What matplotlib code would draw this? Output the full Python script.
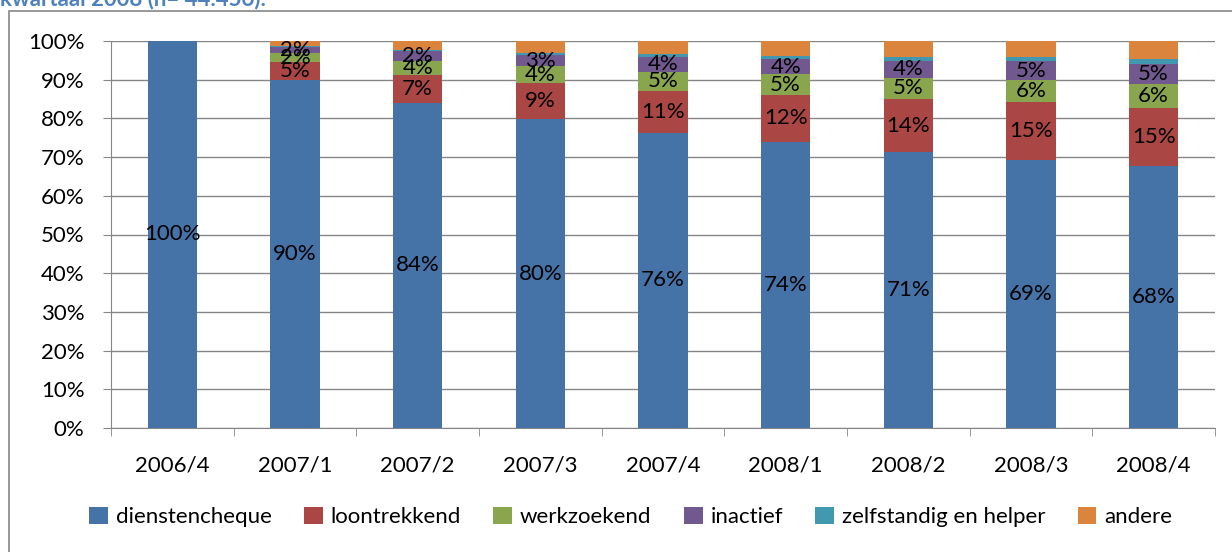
import numpy as np
import matplotlib.pyplot as plt
from matplotlib.patches import Rectangle

plt.rcParams['font.family'] = ['Lato', 'DejaVu Sans']

# Kwartalen
kwartalen = ['2006/4', '2007/1', '2007/2', '2007/3', '2007/4',
             '2008/1', '2008/2', '2008/3', '2008/4']

# Aandelen per statusgroep (in %)
dienstencheque = [100, 89.9, 84.1, 79.8, 76.3, 73.9, 71.2, 69.3, 67.6]
loontrekkend = [0, 4.6, 7.0, 9.3, 10.8, 12.2, 13.9, 15.0, 15.0]
werkzoekend = [0, 2.4, 3.8, 4.4, 5.0, 5.3, 5.4, 5.6, 6.4]
inactief = [0, 1.6, 2.4, 2.8, 3.7, 4.0, 4.4, 4.9, 5.1]
zelfstandig = [0, 0.3, 0.4, 0.7, 0.8, 0.8, 0.9, 1.1, 1.2]
andere = [0, 1.2, 2.3, 3.0, 3.4, 3.8, 4.2, 4.1, 4.7]

reeksen = [dienstencheque, loontrekkend, werkzoekend, inactief, zelfstandig, andere]
namen = ['dienstencheque', 'loontrekkend', 'werkzoekend', 'inactief',
         'zelfstandig en helper', 'andere']
kleuren = ['#4572A7', '#AA4643', '#89A54E', '#71588F', '#4198AF', '#DB843D']
met_label = [True, True, True, True, False, False]

fs = 16

fig = plt.figure(figsize=(12.32, 5.52), dpi=100)
ax = fig.add_axes([111 / 1232, 1 - 428 / 552, (1215 - 111) / 1232, (428 - 41) / 552])

x = np.arange(len(kwartalen))
onder = np.zeros(len(kwartalen))
for waarden, naam, kleur, label in zip(reeksen, namen, kleuren, met_label):
    w = np.array(waarden, dtype=float)
    ax.bar(x, w, 0.4, bottom=onder, color=kleur, label=naam, zorder=3)
    if label:
        for xi, b, v in zip(x, onder, w):
            if v > 0:
                ax.text(xi, b + v / 2, f'{v:.0f}%', ha='center', va='center',
                        fontsize=fs, zorder=4)
    onder += w

ax.set_xlim(-0.5, len(kwartalen) - 0.5)
ax.set_ylim(0, 100)
ax.set_yticks(np.arange(0, 101, 10))
ax.set_yticklabels([f'{v}%' for v in range(0, 101, 10)], fontsize=fs)
ax.yaxis.grid(True, color='#868686', linewidth=1, zorder=0)
ax.set_axisbelow(True)

ax.set_xticks(x)
ax.set_xticklabels(kwartalen, fontsize=fs)
ax.set_xticks(np.arange(-0.5, len(kwartalen)), minor=True)
ax.tick_params(axis='x', which='major', length=0, pad=20)
ax.tick_params(axis='x', which='minor', length=6, color='#868686', direction='out')
ax.tick_params(axis='y', length=6, color='#868686', pad=13)

for s in ['top', 'right']:
    ax.spines[s].set_visible(False)
for s in ['left', 'bottom']:
    ax.spines[s].set_color('#868686')

fig.legend(loc='center', bbox_to_anchor=(0.512, 1 - 517 / 552), ncol=6,
           frameon=False, fontsize=fs, handlelength=0.85, handleheight=0.85,
           handletextpad=0.35, columnspacing=1.45)

# kader rond de grafiek
fig.patches.append(Rectangle((9 / 1232, -0.1), 1.1, 1 - 11 / 552 + 0.1,
                             transform=fig.transFigure, fill=False,
                             edgecolor='#868686', linewidth=1.2))

fig.text(0.0, 1 - 5 / 552, 'kwartaal 2008 (n= 44.456).', color='#4F81BD',
         fontsize=fs, fontweight='bold', va='baseline', ha='left')

fig.savefig('out.png', dpi=100)
